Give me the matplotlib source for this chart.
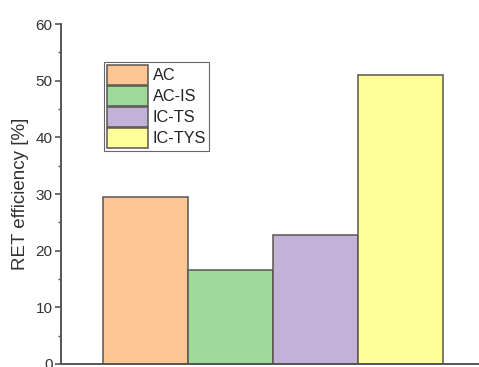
import matplotlib.pyplot as plt
from matplotlib.ticker import MultipleLocator

plt.rcParams['font.family'] = ['Liberation Sans', 'DejaVu Sans']

# RET efficiency per sample
samples = ['AC', 'AC-IS', 'IC-TS', 'IC-TYS']
efficiency = [29.4, 16.6, 22.7, 51.0]
colors = ['#FBC594', '#9ED89B', '#C2B2D7', '#FFFF99']
positions = [1, 2, 3, 4]

fig = plt.figure(figsize=(4.79, 3.67), dpi=100)
ax = fig.add_axes([0.127, 0.0082, 0.873, 0.926])

for x, v, c, name in zip(positions, efficiency, colors, samples):
    ax.bar(x, v, width=1.0, color=c, edgecolor='#5a5550', linewidth=1.1, label=name)

ax.set_xlim(0.0, 4.92)
ax.set_ylim(0, 60)
ax.yaxis.set_major_locator(MultipleLocator(10))
ax.yaxis.set_minor_locator(MultipleLocator(5))
ax.set_xticks([])

for side in ['top', 'right']:
    ax.spines[side].set_visible(False)
for side in ['left', 'bottom']:
    ax.spines[side].set_color('#555555')
    ax.spines[side].set_linewidth(1.4)

ax.tick_params(axis='y', which='major', direction='out', length=4, width=1.2,
               color='#555555', labelsize=11, labelcolor='#333333', pad=2)
ax.tick_params(axis='y', which='minor', direction='out', length=2.5, width=1.0,
               color='#555555')
ax.set_ylabel('RET efficiency [%]', fontsize=13.5, color='#333333', labelpad=5)

leg = ax.legend(loc='upper left', bbox_to_anchor=(0.103, 0.888), borderaxespad=0,
                fontsize=11.7, handlelength=2.5, handleheight=1.45, labelspacing=0.1,
                handletextpad=0.3, borderpad=0.2, fancybox=False, framealpha=1)
leg.get_frame().set_edgecolor('#666666')
leg.get_frame().set_linewidth(0.8)
for t in leg.get_texts():
    t.set_color('#222222')

fig.savefig('out.png', dpi=100)
